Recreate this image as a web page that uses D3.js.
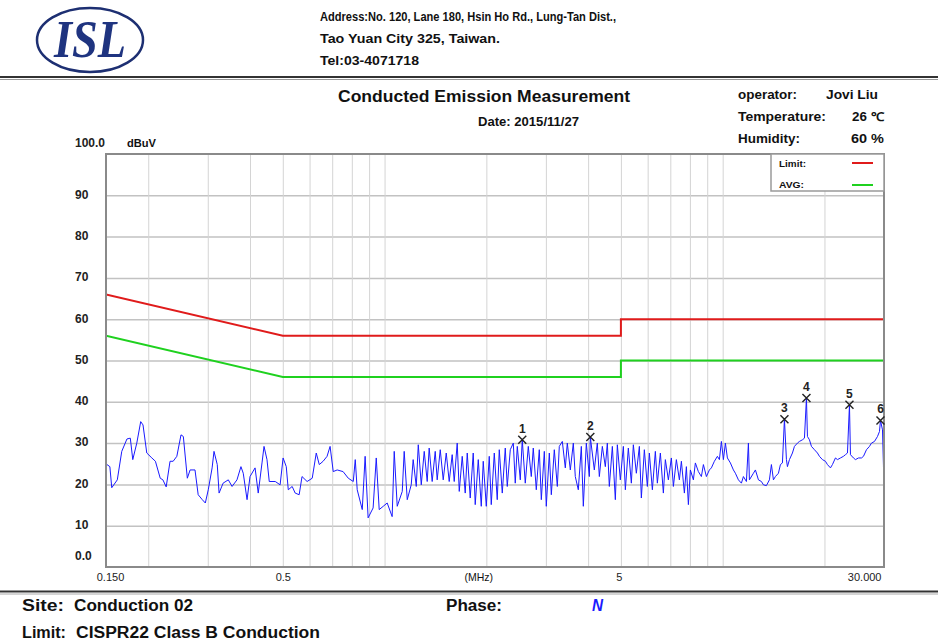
<!DOCTYPE html>
<html>
<head>
<meta charset="utf-8">
<script src="https://cdn.jsdelivr.net/npm/d3@7/dist/d3.min.js"></script>
<style>
  html, body { margin: 0; padding: 0; background: #fff; }
  svg { display: block; }
  text { font-family: "Liberation Sans", Arial, Helvetica, sans-serif; fill: #111; }
</style>
</head>
<body>
<svg id="chart" width="938" height="644"></svg>
<script>
// ---- data -------------------------------------------------------------
const yTicks = [0, 10, 20, 30, 40, 50, 60, 70, 80, 90, 100];
const yTickText = ["0.0", "10", "20", "30", "40", "50", "60", "70", "80", "90", "100.0"];
const yGrid = [10, 20, 30, 40, 50, 60, 70, 80, 90];

const xGrid = [0.2, 0.3, 0.4, 0.5, 0.6, 0.7, 0.8, 0.9, 1, 2, 3, 4, 5, 6, 7, 8, 9, 10, 20];
const xTicks = [0.15, 0.5, 5, 30];
const xTickText = ["0.150", "0.5", "5", "30.000"];

// CISPR 22 class B conducted limits (MHz, dBuV)
const limitMHz = [0.15, 0.5, 5, 5, 30];
const qpLimit = [66, 56, 56, 60, 60];
const avgLimit = [56, 46, 46, 50, 50];

// measured trace, neutral line (MHz, dBuV)
const trace = [
  [0.151,24.8],[0.154,24.3],[0.156,19.2],[0.162,21.1],[0.167,28],[0.173,31],[0.177,31.2],[0.180,26],
  [0.185,30],[0.190,35.2],[0.193,34.4],[0.198,27.6],[0.205,26.4],[0.210,25.6],[0.217,21.5],[0.221,21.1],
  [0.226,19.4],[0.232,25.6],[0.237,25.6],[0.243,26.8],[0.250,32],[0.254,31.6],[0.261,21.5],[0.266,23.5],
  [0.275,23.5],[0.281,17.5],[0.289,16.3],[0.295,15.5],[0.301,18.7],[0.309,24],[0.313,28],[0.320,24.8],
  [0.324,17.9],[0.333,20.3],[0.345,21.1],[0.354,19.5],[0.366,21.1],[0.376,24.3],[0.382,22.7],[0.392,16.3],
  [0.400,21.9],[0.414,24],[0.423,17.9],[0.434,25.2],[0.440,29.2],[0.449,26],[0.456,20.7],[0.475,20.7],
  [0.491,19.9],[0.501,26.4],[0.512,24.3],[0.519,18.7],[0.533,19.5],[0.544,17.9],[0.559,17.5],[0.570,21.9],
  [0.590,20.7],[0.611,21.5],[0.628,27.6],[0.641,24.8],[0.658,25.6],[0.676,26.8],[0.690,29.2],[0.705,23.1],
  [0.724,23.5],[0.754,23.1],[0.781,21.5],[0.808,20.7],[0.819,26],[0.830,18.7],[0.859,13.9],[0.876,26.8],
  [0.894,11.9],[0.925,14.3],[0.945,26.4],[0.964,13.9],[0.991,14.7],[1.018,15.5],[1.053,12.2],[1.068,28],
  [1.090,14.7],[1.128,18.3],[1.143,28],[1.167,16.3],[1.199,19.9],[1.215,26],[1.241,19.5],[1.258,29.6],
  [1.284,19.9],[1.310,28],[1.337,20.7],[1.355,28.8],[1.383,20.7],[1.412,28],[1.431,21.1],[1.461,28.4],
  [1.491,21.1],[1.522,27.6],[1.553,20.7],[1.585,27.2],[1.607,20.7],[1.640,30],[1.663,18.3],[1.697,26.8],
  [1.732,17.9],[1.756,27.6],[1.792,16.7],[1.829,27.6],[1.854,15.1],[1.893,26],[1.932,14.7],[1.958,25.6],
  [1.999,14.7],[2.040,26.8],[2.068,15.1],[2.111,27.6],[2.154,16.3],[2.184,28.4],[2.229,17.9],[2.275,28.8],
  [2.306,19.5],[2.354,28.4],[2.403,30],[2.435,20.3],[2.469,29.2],[2.520,21.1],[2.554,30.8],[2.607,20.3],
  [2.661,29.2],[2.716,21.9],[2.753,28.8],[2.810,18.7],[2.868,28.4],[2.908,16.3],[2.968,28],[3.008,14.7],
  [3.071,27.6],[3.113,17.5],[3.177,28.4],[3.243,19.5],[3.287,29.2],[3.355,30.4],[3.424,24],[3.471,30],
  [3.543,23.5],[3.616,30],[3.665,21.9],[3.741,18.7],[3.819,29.2],[3.871,14.7],[3.951,30],[4.033,21.9],
  [4.060,31.5],[4.172,23.5],[4.258,30],[4.317,21.9],[4.406,29.2],[4.497,24.3],[4.559,30],[4.621,19.5],
  [4.717,29.2],[4.814,16.3],[4.880,29.6],[4.981,21.1],[5.084,29.2],[5.154,18.7],[5.260,28.8],[5.369,20.3],
  [5.442,29.6],[5.555,22.7],[5.670,29.2],[5.747,16.7],[5.866,28.4],[5.987,19.5],[6.069,27.6],[6.195,18.7],
  [6.322,28],[6.409,20.3],[6.542,27.6],[6.677,17.9],[6.768,26],[6.908,21.1],[7.051,26.4],[7.148,19.5],
  [7.295,26],[7.446,21.1],[7.548,25.6],[7.704,17.9],[7.810,24.3],[7.917,15.1],[8.025,23.5],[8.191,21.1],
  [8.303,25.2],[8.475,23.1],[8.650,21.9],[8.769,24.8],[8.950,21.9],[9.135,23.5],[9.260,24],[9.451,25.6],
  [9.647,26.8],[9.779,26],[9.913,30.4],[10.049,26],[10.187,30],[10.327,26.4],[10.540,25.2],[10.758,23.5],
  [10.905,22.7],[11.131,21.1],[11.360,20.3],[11.516,21.9],[11.754,20.7],[11.915,30],[11.997,21.1],[12.328,22.7],
  [12.497,23.5],[12.756,21.1],[13.019,20.7],[13.197,19.9],[13.470,19.7],[13.748,21.1],[13.936,24.8],[14.128,21.1],
  [14.321,21.9],[14.618,22.7],[14.818,24.8],[15.021,25.2],[15.228,35.8],[15.437,26],[15.542,24.3],[15.756,26],
  [16.081,27.6],[16.302,29.2],[16.638,30],[16.866,30.4],[17.214,30.8],[17.451,31.2],[17.691,40.9],[17.812,31.6],
  [18.056,30.8],[18.304,29.2],[18.682,28.4],[19.067,27.6],[19.329,26.8],[19.728,26],[20.135,25.6],[20.411,24.8],
  [20.833,24],[21.118,24.8],[21.554,26.4],[21.851,26],[22.302,26.4],[22.763,26.8],[23.075,27.2],[23.392,27.6],
  [23.713,39.3],[23.875,27.2],[24.367,26.4],[24.701,26],[25.213,26.4],[25.733,26.4],[26.086,26.8],[26.625,28.4],
  [27.175,29.2],[27.547,30],[28.116,30.4],[28.698,31.6],[29.091,32.8],[29.290,35.5],[29.692,33.2],[29.895,24.3],
  [30.0,24]
];

// marked peaks
const markerNo = ["1", "2", "3", "4", "5", "6"];
const markerMHz = [2.554, 4.060, 15.228, 17.691, 23.713, 29.290];
const markerDbuv = [30.8, 31.5, 35.8, 40.9, 39.3, 35.5];

// ---- layout -----------------------------------------------------------
const svg = d3.select("#chart");
const L = 106, R = 884, T = 154, B = 567;

const x = d3.scaleLog().domain([0.15, 30]).range([L, R]);
const y = d3.scaleLinear().domain([0, 100]).range([B, T]);

function txt(g, s, px, py, opts) {
  const o = Object.assign({ size: 11.5, weight: "bold", anchor: "start" }, opts || {});
  const t = g.append("text").attr("x", px).attr("y", py)
    .attr("font-size", o.size).attr("font-weight", o.weight)
    .attr("text-anchor", o.anchor).text(s);
  if (o.len) t.attr("textLength", o.len).attr("lengthAdjust", "spacingAndGlyphs");
  if (o.family) t.style("font-family", o.family);
  if (o.fill) t.style("fill", o.fill);
  if (o.italic) t.attr("font-style", "italic");
  return t;
}

// ---- header -----------------------------------------------------------
const head = svg.append("g");
head.append("ellipse").attr("cx", 90).attr("cy", 40).attr("rx", 53).attr("ry", 32)
  .attr("fill", "none").attr("stroke", "#1d2f72").attr("stroke-width", 2.5);
txt(head, "ISL", 90, 57, { size: 52, anchor: "middle", italic: true, len: 72,
  family: "'Liberation Serif', 'Times New Roman', serif", fill: "#1f3480" });

txt(head, "Address:No. 120, Lane 180, Hsin Ho Rd., Lung-Tan Dist.,", 320, 21, { size: 12.5, len: 296 });
txt(head, "Tao Yuan City 325, Taiwan.", 320, 43, { size: 12.5, len: 180 });
txt(head, "Tel:03-4071718", 320, 65, { size: 12.5, len: 99 });

head.append("line").attr("x1", 0).attr("x2", 938).attr("y1", 77).attr("y2", 77)
  .attr("stroke", "#333").attr("stroke-width", 2);
head.append("line").attr("x1", 0).attr("x2", 938).attr("y1", 79.5).attr("y2", 79.5)
  .attr("stroke", "#999").attr("stroke-width", 1);

txt(head, "Conducted Emission Measurement", 338, 102, { size: 16.5, len: 292 });
txt(head, "Date: 2015/11/27", 478, 126, { size: 12, len: 101 });

txt(head, "operator:", 738, 99, { size: 12, len: 59 });
txt(head, "Jovi Liu", 826, 99, { size: 12, len: 52 });
txt(head, "Temperature:", 738, 121, { size: 12, len: 88 });
txt(head, "26 \u2103", 852, 121, { size: 12, len: 32 });
txt(head, "Humidity:", 738, 143, { size: 12, len: 62 });
txt(head, "60 %", 851, 143, { size: 12, len: 33 });

// ---- grid -------------------------------------------------------------
const gridY = svg.append("g").attr("transform", `translate(${L},0)`)
  .call(d3.axisLeft(y).tickValues(yGrid).tickSize(-(R - L)).tickFormat(""));
gridY.select(".domain").remove();
gridY.selectAll("line").attr("stroke", "#c2c2c2").attr("stroke-width", 1.5);

const gridX = svg.append("g").attr("transform", `translate(0,${B})`)
  .call(d3.axisBottom(x).tickValues(xGrid).tickSize(-(B - T)).tickFormat(""));
gridX.select(".domain").remove();
gridX.selectAll("line").attr("stroke", "#d4d4d4").attr("stroke-width", 1);

// ---- axis labels ------------------------------------------------------
const axY = svg.append("g").attr("transform", `translate(${L},0)`)
  .call(d3.axisLeft(y).tickValues(yTicks).tickSize(0).tickFormat((d, i) => yTickText[i]));
axY.select(".domain").remove();
axY.selectAll("text")
  .attr("x", -31).attr("text-anchor", "start")
  .attr("y", d => (d % 100 === 0 ? -11 : -1))
  .attr("font-size", 12).attr("font-weight", "bold")
  .style("font-family", "'Liberation Sans', Arial, sans-serif").style("fill", "#222");
txt(svg, "dBuV", 127, 147, { size: 10.5, len: 29 });

const axX = svg.append("g").attr("transform", `translate(0,${B})`)
  .call(d3.axisBottom(x).tickValues(xTicks).tickSize(0).tickPadding(6)
    .tickFormat((d, i) => xTickText[i]));
axX.select(".domain").remove();
axX.selectAll("text")
  .attr("font-size", 11).attr("font-weight", "normal")
  .style("font-family", "'Liberation Sans Narrow', 'Liberation Sans', Arial, sans-serif")
  .style("fill", "#222")
  .attr("text-anchor", d => (d === 30 ? "end" : "middle"))
  .attr("dx", d => (d === 0.15 ? 4 : d === 30 ? -3 : d === 5 ? -2 : 0));
txt(svg, "(MHz)", x(1.9), 581, { size: 10.5, weight: "normal", anchor: "middle",
  family: "'Liberation Sans Narrow', 'Liberation Sans', Arial, sans-serif" });

// ---- plot -------------------------------------------------------------
svg.append("clipPath").attr("id", "plotClip")
  .append("rect").attr("x", L).attr("y", T).attr("width", R - L).attr("height", B - T);
const plot = svg.append("g").attr("clip-path", "url(#plotClip)");

const limLine = d3.line().x((d, i) => x(limitMHz[i])).y(d => y(d));
plot.append("path").datum(qpLimit).attr("d", limLine)
  .attr("fill", "none").attr("stroke", "#e01b1b").attr("stroke-width", 2);
plot.append("path").datum(avgLimit).attr("d", limLine)
  .attr("fill", "none").attr("stroke", "#1fd11f").attr("stroke-width", 2);

const trLine = d3.line().x(d => x(d[0])).y(d => y(d[1]));
plot.append("path").datum(trace).attr("d", trLine)
  .attr("fill", "none").attr("stroke", "#1a1aff").attr("stroke-width", 1)
  .attr("stroke-linejoin", "round");

// frame
svg.append("rect").attr("x", L).attr("y", T).attr("width", R - L).attr("height", B - T)
  .attr("fill", "none").attr("stroke", "#8a8a8a").attr("stroke-width", 2);

// markers
const mk = svg.append("g").selectAll("g").data(markerMHz).join("g")
  .attr("transform", (d, i) => `translate(${x(d)},${y(markerDbuv[i])})`);
mk.append("path").attr("d", "M-4,-4L4,4M-4,4L4,-4")
  .attr("stroke", "#222").attr("stroke-width", 1.4).attr("fill", "none");
mk.append("text").attr("y", -7).attr("text-anchor", "middle")
  .attr("font-size", 12).attr("font-weight", "bold").style("fill", "#222")
  .text((d, i) => markerNo[i]);

// legend
const lg = svg.append("g");
lg.append("rect").attr("x", 771).attr("y", T).attr("width", R - 771).attr("height", 37)
  .attr("fill", "#fff").attr("stroke", "#9a9a9a").attr("stroke-width", 1.5);
txt(lg, "Limit:", 779, 167, { size: 9.5, len: 27 });
txt(lg, "AVG:", 779, 188, { size: 9.5, len: 25 });
lg.append("line").attr("x1", 852).attr("x2", 873).attr("y1", 163).attr("y2", 163)
  .attr("stroke", "#e01b1b").attr("stroke-width", 2);
lg.append("line").attr("x1", 852).attr("x2", 873).attr("y1", 185).attr("y2", 185)
  .attr("stroke", "#1fd11f").attr("stroke-width", 2);

// ---- footer -----------------------------------------------------------
const foot = svg.append("g");
foot.append("line").attr("x1", 0).attr("x2", 938).attr("y1", 591.5).attr("y2", 591.5)
  .attr("stroke", "#333").attr("stroke-width", 2);
foot.append("line").attr("x1", 0).attr("x2", 938).attr("y1", 594).attr("y2", 594)
  .attr("stroke", "#aaa").attr("stroke-width", 1);
const narrow = "'Liberation Sans Narrow', 'Liberation Sans', Arial, sans-serif";
txt(foot, "Site:", 22, 611, { size: 16, len: 42, family: narrow });
txt(foot, "Conduction 02", 74, 611, { size: 16, len: 119, family: narrow });
txt(foot, "Phase:", 446, 611, { size: 16, len: 56, family: narrow });
txt(foot, "N", 592, 611, { size: 16, len: 11, family: narrow, italic: true, fill: "#1a1aff" });
txt(foot, "Limit:", 22, 638, { size: 16, len: 44, family: narrow });
txt(foot, "CISPR22 Class B Conduction", 76, 638, { size: 16, len: 244, family: narrow });
</script>
</body>
</html>
